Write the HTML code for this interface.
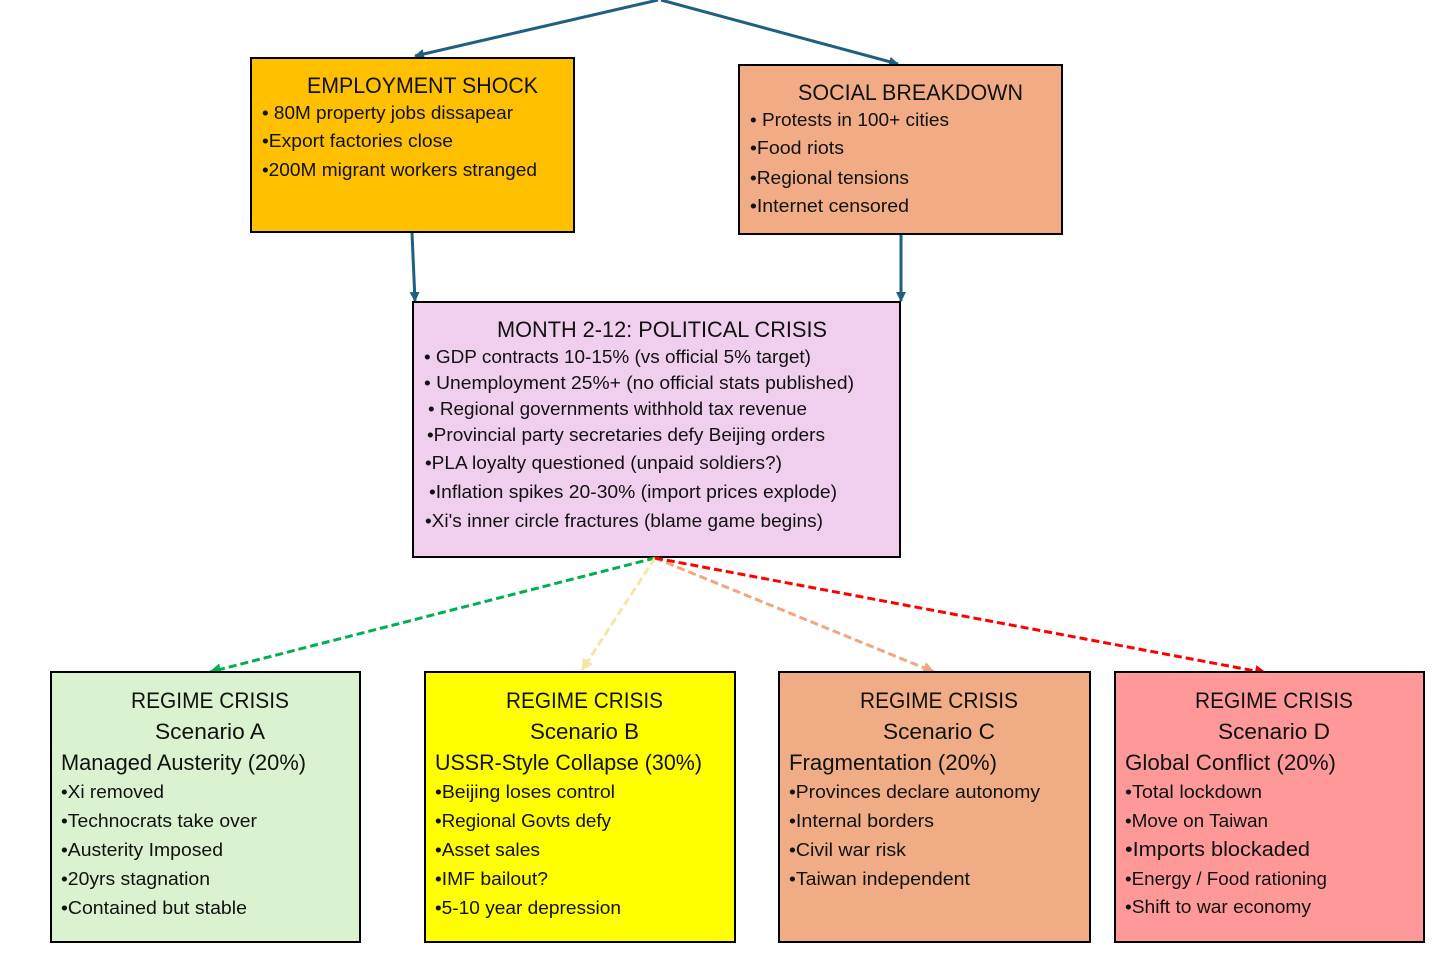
<!DOCTYPE html>
<html><head><meta charset="utf-8"><style>html,body{margin:0;padding:0;background:#fff}svg{display:block}</style></head>
<body>
<svg width="1456" height="967" viewBox="0 0 1456 967" xmlns="http://www.w3.org/2000/svg" font-family="Liberation Sans, sans-serif" fill="#111">
<defs>
<marker id="ab" markerWidth="10" markerHeight="10" refX="9" refY="5" orient="auto" markerUnits="userSpaceOnUse"><path d="M0,0 L10,5 L0,10 Z" fill="#1F5F82"/></marker>
<marker id="ag" markerWidth="12" markerHeight="12" refX="11" refY="6" orient="auto" markerUnits="userSpaceOnUse"><path d="M0,0 L12,6 L0,12 Z" fill="#00B050"/></marker>
<marker id="ay" markerWidth="12" markerHeight="12" refX="11" refY="6" orient="auto" markerUnits="userSpaceOnUse"><path d="M0,0 L12,6 L0,12 Z" fill="#F5E6A6"/></marker>
<marker id="ao" markerWidth="12" markerHeight="12" refX="11" refY="6" orient="auto" markerUnits="userSpaceOnUse"><path d="M0,0 L12,6 L0,12 Z" fill="#F1A77E"/></marker>
<marker id="ar" markerWidth="12" markerHeight="12" refX="11" refY="6" orient="auto" markerUnits="userSpaceOnUse"><path d="M0,0 L12,6 L0,12 Z" fill="#FF0000"/></marker>
</defs>
<g stroke="#1F5F82" stroke-width="3" fill="none" marker-end="url(#ab)">
<line x1="658" y1="0" x2="415" y2="56"/>
<line x1="661" y1="0" x2="898" y2="64"/>
<line x1="412" y1="233" x2="415" y2="301"/>
<line x1="901" y1="235" x2="901" y2="301"/>
</g>
<rect x="251" y="58" width="323" height="174" fill="#FFC000" stroke="#000" stroke-width="2"/>
<rect x="739" y="65" width="323" height="169" fill="#F1AC85" stroke="#000" stroke-width="2"/>
<rect x="413" y="302" width="487" height="255" fill="#F0CFEE" stroke="#000" stroke-width="2"/>
<g stroke-width="3" stroke-dasharray="8,4" fill="none">
<line x1="655" y1="558" x2="210" y2="672" stroke="#00B050" marker-end="url(#ag)"/>
<line x1="655" y1="558" x2="582" y2="670" stroke="#F5E6A6" marker-end="url(#ay)"/>
<line x1="655" y1="558" x2="934" y2="672" stroke="#F1A77E" marker-end="url(#ao)"/>
<line x1="655" y1="558" x2="1266" y2="673" stroke="#FF0000" marker-end="url(#ar)"/>
</g>
<rect x="51" y="672" width="309" height="270" fill="#DAF2D0" stroke="#000" stroke-width="2"/>
<rect x="425" y="672" width="310" height="270" fill="#FFFF00" stroke="#000" stroke-width="2"/>
<rect x="779" y="672" width="311" height="270" fill="#F0AC84" stroke="#000" stroke-width="2"/>
<rect x="1115" y="672" width="309" height="270" fill="#FF9999" stroke="#000" stroke-width="2"/>
<g font-size="22">
<text x="307" y="93" textLength="231" lengthAdjust="spacingAndGlyphs">EMPLOYMENT SHOCK</text>
<text x="798" y="100" textLength="225" lengthAdjust="spacingAndGlyphs">SOCIAL BREAKDOWN</text>
<text x="497" y="337" textLength="330" lengthAdjust="spacingAndGlyphs">MONTH 2-12: POLITICAL CRISIS</text>
</g>
<g font-size="18">
<text x="262" y="119" textLength="251" lengthAdjust="spacingAndGlyphs">• 80M property jobs dissapear</text>
<text x="262" y="147" textLength="191" lengthAdjust="spacingAndGlyphs">•Export factories close</text>
<text x="262" y="176" textLength="275" lengthAdjust="spacingAndGlyphs">•200M migrant workers stranged</text>
<text x="750" y="126" textLength="199" lengthAdjust="spacingAndGlyphs">• Protests in 100+ cities</text>
<text x="750" y="154" textLength="94" lengthAdjust="spacingAndGlyphs">•Food riots</text>
<text x="750" y="184" textLength="159" lengthAdjust="spacingAndGlyphs">•Regional tensions</text>
<text x="750" y="212" textLength="159" lengthAdjust="spacingAndGlyphs">•Internet censored</text>
<text x="424" y="363" textLength="387" lengthAdjust="spacingAndGlyphs">• GDP contracts 10-15% (vs official 5% target)</text>
<text x="424" y="389" textLength="430" lengthAdjust="spacingAndGlyphs">• Unemployment 25%+ (no official stats published)</text>
<text x="428" y="415" textLength="379" lengthAdjust="spacingAndGlyphs">• Regional governments withhold tax revenue</text>
<text x="427" y="441" textLength="398" lengthAdjust="spacingAndGlyphs">•Provincial party secretaries defy Beijing orders</text>
<text x="425" y="469" textLength="357" lengthAdjust="spacingAndGlyphs">•PLA loyalty questioned (unpaid soldiers?)</text>
<text x="429" y="498" textLength="408" lengthAdjust="spacingAndGlyphs">•Inflation spikes 20-30% (import prices explode)</text>
<text x="425" y="527" textLength="398" lengthAdjust="spacingAndGlyphs">•Xi's inner circle fractures (blame game begins)</text>
</g>
<g font-size="22">
<text x="131" y="708" textLength="158" lengthAdjust="spacingAndGlyphs">REGIME CRISIS</text>
<text x="155" y="739" textLength="110" lengthAdjust="spacingAndGlyphs">Scenario A</text>
<text x="61" y="770" textLength="245" lengthAdjust="spacingAndGlyphs">Managed Austerity (20%)</text>
<text x="506" y="708" textLength="157" lengthAdjust="spacingAndGlyphs">REGIME CRISIS</text>
<text x="530" y="739" textLength="109" lengthAdjust="spacingAndGlyphs">Scenario B</text>
<text x="435" y="770" textLength="267" lengthAdjust="spacingAndGlyphs">USSR-Style Collapse (30%)</text>
<text x="860" y="708" textLength="158" lengthAdjust="spacingAndGlyphs">REGIME CRISIS</text>
<text x="883" y="739" textLength="112" lengthAdjust="spacingAndGlyphs">Scenario C</text>
<text x="789" y="770" textLength="208" lengthAdjust="spacingAndGlyphs">Fragmentation (20%)</text>
<text x="1195" y="708" textLength="158" lengthAdjust="spacingAndGlyphs">REGIME CRISIS</text>
<text x="1218" y="739" textLength="112" lengthAdjust="spacingAndGlyphs">Scenario D</text>
<text x="1125" y="770" textLength="211" lengthAdjust="spacingAndGlyphs">Global Conflict (20%)</text>
</g>
<g font-size="18">
<text x="61" y="798" textLength="103" lengthAdjust="spacingAndGlyphs">•Xi removed</text>
<text x="61" y="827" textLength="196" lengthAdjust="spacingAndGlyphs">•Technocrats take over</text>
<text x="61" y="856" textLength="162" lengthAdjust="spacingAndGlyphs">•Austerity Imposed</text>
<text x="61" y="885" textLength="149" lengthAdjust="spacingAndGlyphs">•20yrs stagnation</text>
<text x="61" y="914" textLength="186" lengthAdjust="spacingAndGlyphs">•Contained but stable</text>
<text x="435" y="798" textLength="180" lengthAdjust="spacingAndGlyphs">•Beijing loses control</text>
<text x="435" y="827" textLength="176" lengthAdjust="spacingAndGlyphs">•Regional Govts defy</text>
<text x="435" y="856" textLength="105" lengthAdjust="spacingAndGlyphs">•Asset sales</text>
<text x="435" y="885" textLength="113" lengthAdjust="spacingAndGlyphs">•IMF bailout?</text>
<text x="435" y="914" textLength="186" lengthAdjust="spacingAndGlyphs">•5-10 year depression</text>
<text x="789" y="798" textLength="251" lengthAdjust="spacingAndGlyphs">•Provinces declare autonomy</text>
<text x="789" y="827" textLength="145" lengthAdjust="spacingAndGlyphs">•Internal borders</text>
<text x="789" y="856" textLength="117" lengthAdjust="spacingAndGlyphs">•Civil war risk</text>
<text x="789" y="885" textLength="181" lengthAdjust="spacingAndGlyphs">•Taiwan independent</text>
<text x="1125" y="798" textLength="137" lengthAdjust="spacingAndGlyphs">•Total lockdown</text>
<text x="1125" y="827" textLength="143" lengthAdjust="spacingAndGlyphs">•Move on Taiwan</text>
<text x="1125" y="856" textLength="185" lengthAdjust="spacingAndGlyphs" font-size="20">•Imports blockaded</text>
<text x="1125" y="885" textLength="202" lengthAdjust="spacingAndGlyphs">•Energy / Food rationing</text>
<text x="1125" y="913" textLength="186" lengthAdjust="spacingAndGlyphs">•Shift to war economy</text>
</g>
</svg>
</body></html>
